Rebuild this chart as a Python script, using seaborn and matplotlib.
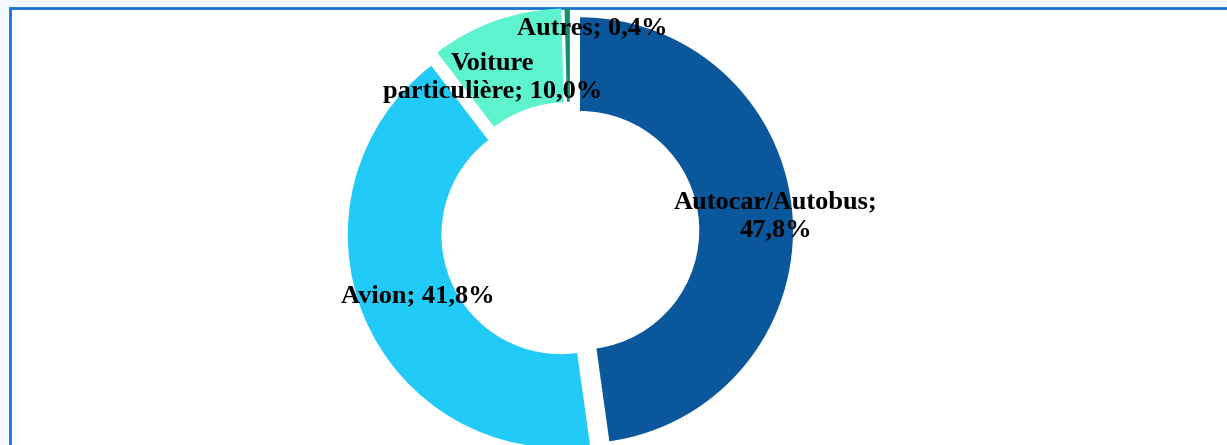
import matplotlib
matplotlib.use('Agg')
import matplotlib.pyplot as plt
import matplotlib.patches as mpatches
import seaborn as sns

#--------------------------------------------------------
categories=['Autocar/Autobus', 'Avion', 'Voiture\nparticulière', 'Autres']
values=[47.8, 41.8, 10.0, 0.4]
value_labels=['47,8%', '41,8%', '10,0%', '0,4%']
colors=['#0B579B', '#22CAF7', '#5EF3CF', '#10906E']

#--------------------------------------------------------
sns.set_theme(style='white')
plt.rcParams['font.family']=['Liberation Serif', 'DejaVu Serif']

W, H=1227, 445
fig=plt.figure(figsize=(W/100, H/100), dpi=100)
fig.patch.set_facecolor('#F3F9FE')

#frame (white panel with blue border, cut by right/bottom edges)
frame=mpatches.Rectangle((9.5/W, -0.1), 1.0, 1.1-8.5/H, transform=fig.transFigure,
	facecolor='white', edgecolor='#1570D4', linewidth=2, clip_on=False, zorder=-5)
fig.patches.append(frame)

#pie axes: centre at (570, 231) px, radius 213 px
cx, cy, R=570, 231, 213
ax=fig.add_axes([0, 0, 1, 1], zorder=2)
ax.patch.set_alpha(0)
wedges, _=ax.pie(values, colors=sns.color_palette(colors), startangle=90, counterclock=False,
	explode=[0.047]*len(values), wedgeprops=dict(width=0.44, linewidth=0))
ax.set_xlim(-cx/R, (W-cx)/R)
ax.set_ylim(-(H-cy)/R, cy/R)
ax.set_aspect('auto')
ax.axis('off')

#labels
txt=[f'Autocar/Autobus;\n{value_labels[0]}', f'Avion; {value_labels[1]}',
	f'Voiture\nparticulière; {value_labels[2]}', f'Autres; {value_labels[3]}']
pos=[(0.965, 0.07), (-0.715, -0.305), (-0.365, 0.72), (0.103, 0.955)]
for t, (x, y) in zip(txt, pos):
	ax.text(x, y, t, ha='center', va='center', fontsize=19, weight='bold',
		color='black', linespacing=1.3)

plt.savefig('out.png', dpi=100, facecolor=fig.get_facecolor())
plt.close()
